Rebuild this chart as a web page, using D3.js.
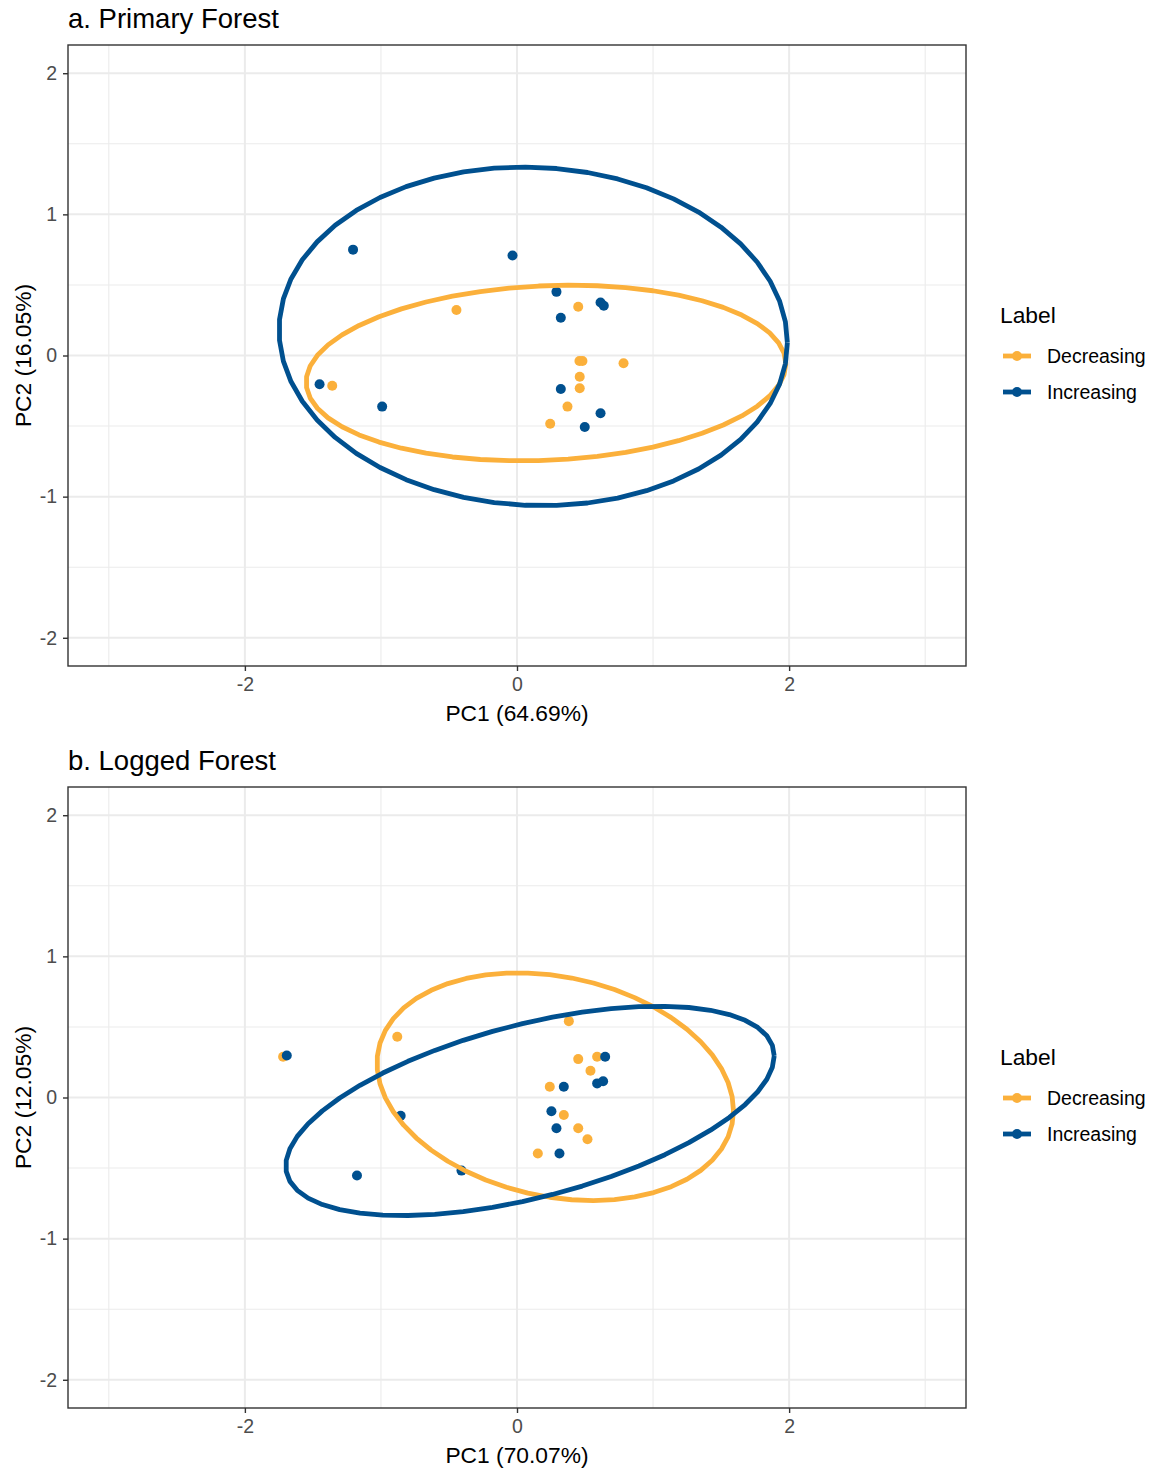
<!DOCTYPE html>
<html>
<head>
<meta charset="utf-8">
<script src="https://cdn.jsdelivr.net/npm/d3@7"></script>
<style>
  html, body { margin: 0; padding: 0; background: #ffffff; }
  svg { display: block; font-family: "Liberation Sans", Arial, sans-serif; }
</style>
</head>
<body>
<svg id="chart" width="1154" height="1471"></svg>
<script>
// PCA scores (PC1, PC2) per forest type and trend label
const primaryDecreasing = [
  [-0.445, 0.322], [0.450, 0.345], [0.459, -0.039], [0.481, -0.039], [0.783, -0.055],
  [0.461, -0.150], [0.461, -0.232], [0.371, -0.362], [0.244, -0.484], [-1.358, -0.214]
];
const primaryIncreasing = [
  [-1.205, 0.750], [-0.033, 0.709], [0.290, 0.451], [0.614, 0.376], [0.638, 0.352],
  [0.322, 0.267], [-1.451, -0.204], [-0.991, -0.362], [0.322, -0.237], [0.614, -0.409],
  [0.498, -0.506]
];
const loggedDecreasing = [
  [-1.719, 0.289], [-0.880, 0.430], [0.381, 0.541], [0.450, 0.272], [0.589, 0.289],
  [0.540, 0.190], [0.241, 0.076], [0.344, -0.124], [0.450, -0.218], [0.518, -0.296],
  [0.153, -0.397]
];
const loggedIncreasing = [
  [-1.692, 0.298], [0.648, 0.289], [0.344, 0.076], [0.589, 0.100], [0.633, 0.115],
  [0.253, -0.098], [0.290, -0.218], [0.312, -0.397], [-0.855, -0.129], [-1.176, -0.553],
  [-0.408, -0.518]
];

// Confidence ellipses: [centre PC1, centre PC2, half-extent PC1, half-extent PC2, cross term]
const primaryDecreasingEllipse = [0.213, -0.124, 1.763, 0.622, 0.115];
const primaryIncreasingEllipse = [0.119, 0.1355, 1.868, 1.1995, -0.085];
const loggedDecreasingEllipse = [0.281, 0.0765, 1.310, 0.8065, -0.220];
const loggedIncreasingEllipse = [0.0955, -0.095, 1.795, 0.7415, 0.700];

// Panel titles, axis titles and ticks
const panelTitles = ["a. Primary Forest", "b. Logged Forest"];
const xTitles = ["PC1 (64.69%)", "PC1 (70.07%)"];
const yTitles = ["PC2 (16.05%)", "PC2 (12.05%)"];
const xMajor = [-2, 0, 2];
const xMinor = [-3, -1, 1, 3];
const yMajor = [-2, -1, 0, 1, 2];
const yMinor = [-1.5, -0.5, 0.5, 1.5];
const labels = ["Decreasing", "Increasing"];
const labelColours = ["#FBB03B", "#00508F"];

const panels = [
  { top: 45, dec: primaryDecreasing, inc: primaryIncreasing,
    decEll: primaryDecreasingEllipse, incEll: primaryIncreasingEllipse },
  { top: 787, dec: loggedDecreasing, inc: loggedIncreasing,
    decEll: loggedDecreasingEllipse, incEll: loggedIncreasingEllipse }
];

const svg = d3.select("#chart");
svg.append("rect").attr("width", 1154).attr("height", 1471).attr("fill", "#ffffff");

const left = 68, right = 966, plotH = 621;
const colour = d3.scaleOrdinal().domain(labels).range(labelColours);

// Ellipse outline from centre and shape terms, via a Cholesky factor of the shape matrix
function ellipsePoints(e, segments) {
  const [cx, cy, hx, hy, sxy] = e;
  const l21 = sxy / hx;
  const l22 = Math.sqrt(hy * hy - l21 * l21);
  const pts = [];
  for (let i = 0; i <= segments; i++) {
    const t = (i / segments) * 2 * Math.PI;
    pts.push([cx + hx * Math.cos(t), cy + l21 * Math.cos(t) + l22 * Math.sin(t)]);
  }
  return pts;
}

panels.forEach((p, i) => {
  const top = p.top, bottom = top + plotH;
  const x = d3.scaleLinear().domain([-3.3, 3.3]).range([left, right]);
  const y = d3.scaleLinear().domain([-2.2, 2.2]).range([bottom, top]);
  const g = svg.append("g");

  // grid
  g.selectAll(".xminor").data(xMinor).join("line")
    .attr("x1", d => x(d)).attr("x2", d => x(d)).attr("y1", top).attr("y2", bottom)
    .attr("stroke", "#EBEBEB").attr("stroke-width", 1.1);
  g.selectAll(".yminor").data(yMinor).join("line")
    .attr("y1", d => y(d)).attr("y2", d => y(d)).attr("x1", left).attr("x2", right)
    .attr("stroke", "#EBEBEB").attr("stroke-width", 1.1);
  g.selectAll(".xmajor").data(xMajor).join("line")
    .attr("x1", d => x(d)).attr("x2", d => x(d)).attr("y1", top).attr("y2", bottom)
    .attr("stroke", "#EBEBEB").attr("stroke-width", 2);
  g.selectAll(".ymajor").data(yMajor).join("line")
    .attr("y1", d => y(d)).attr("y2", d => y(d)).attr("x1", left).attr("x2", right)
    .attr("stroke", "#EBEBEB").attr("stroke-width", 2);

  // points
  const pts = [];
  p.dec.forEach(d => pts.push({ pc1: d[0], pc2: d[1], label: "Decreasing" }));
  p.inc.forEach(d => pts.push({ pc1: d[0], pc2: d[1], label: "Increasing" }));
  g.selectAll(".pt").data(pts).join("circle")
    .attr("cx", d => x(d.pc1)).attr("cy", d => y(d.pc2)).attr("r", 5)
    .attr("fill", d => colour(d.label));

  // ellipses
  const line = d3.line().x(d => x(d[0])).y(d => y(d[1]));
  [["Decreasing", p.decEll], ["Increasing", p.incEll]].forEach(([lab, e]) => {
    g.append("path").attr("d", line(ellipsePoints(e, 51)))
      .attr("fill", "none").attr("stroke", colour(lab)).attr("stroke-width", 4.8)
      .attr("stroke-linejoin", "round");
  });

  // panel border
  g.append("rect").attr("x", left).attr("y", top).attr("width", right - left).attr("height", plotH)
    .attr("fill", "none").attr("stroke", "#333333").attr("stroke-width", 1.4);

  // axes
  const fmt = d => String(d).replace("\u2212", "-");
  const xAxis = g.append("g").attr("transform", `translate(0,${bottom})`)
    .call(d3.axisBottom(x).tickValues(xMajor).tickSize(5).tickPadding(6).tickFormat(fmt));
  const yAxis = g.append("g").attr("transform", `translate(${left},0)`)
    .call(d3.axisLeft(y).tickValues(yMajor).tickSize(5).tickPadding(6).tickFormat(fmt));
  [xAxis, yAxis].forEach(a => {
    a.select(".domain").remove();
    a.selectAll(".tick line").attr("stroke", "#333333").attr("stroke-width", 1.4);
    a.selectAll(".tick text").attr("fill", "#4D4D4D")
      .style("font-size", "19.5px").style("font-family", "'Liberation Sans', Arial, sans-serif");
  });

  // titles
  svg.append("text").attr("x", left).attr("y", top - 17)
    .attr("font-size", 27.5).attr("fill", "#000").text(panelTitles[i]);
  svg.append("text").attr("x", (left + right) / 2).attr("y", bottom + 55)
    .attr("text-anchor", "middle").attr("font-size", 22.8).attr("fill", "#000").text(xTitles[i]);
  svg.append("text")
    .attr("transform", `translate(31,${(top + bottom) / 2}) rotate(-90)`)
    .attr("text-anchor", "middle").attr("font-size", 22.8).attr("fill", "#000").text(yTitles[i]);

  // legend
  const lg = svg.append("g").attr("transform", `translate(1000,${top})`);
  lg.append("text").attr("x", 0).attr("y", 278).attr("font-size", 22.8).attr("fill", "#000").text("Label");
  labels.forEach((lab, k) => {
    const ky = 311 + k * 36;
    lg.append("line").attr("x1", 3).attr("x2", 31).attr("y1", ky).attr("y2", ky)
      .attr("stroke", colour(lab)).attr("stroke-width", 4.8);
    lg.append("circle").attr("cx", 17).attr("cy", ky).attr("r", 5).attr("fill", colour(lab));
    lg.append("text").attr("x", 47).attr("y", ky + 7).attr("font-size", 19.5)
      .attr("fill", "#000").text(lab);
  });
});
</script>
</body>
</html>
